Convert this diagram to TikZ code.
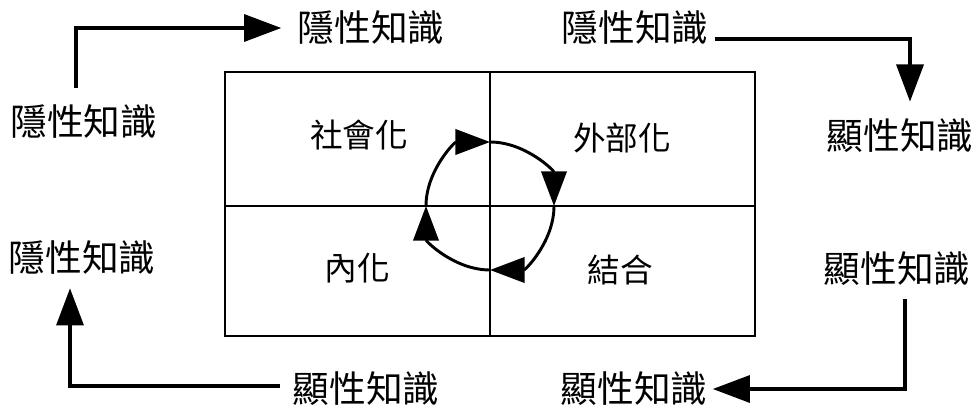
\documentclass[tikz,border=0pt]{standalone}
\usepackage{fontspec}
\newfontfamily\cjk{Noto Sans CJK TC}
\usetikzlibrary{arrows.meta}
\begin{document}
\begin{tikzpicture}[x=0.75pt,y=-0.75pt,
  outer/.style={font=\cjk\fontsize{27.5}{30}\selectfont, inner sep=0pt},
  inner/.style={font=\cjk\fontsize{24.5}{27}\selectfont, inner sep=0pt},
  flow/.style={line width=3.4pt, -{Triangle[length=28pt,width=20pt]}},
  circ/.style={line width=2.2pt, -{Triangle[length=26pt,width=19pt]}},
  grid/.style={line width=0.9pt}]
\fill[white] (0,0) rectangle (979,414);
\useasboundingbox (0,0) rectangle (979,414);
% matrix box
\draw[grid] (225,72) rectangle (755,336);
\draw[grid] (490,72) -- (490,336);
\draw[grid] (225,206) -- (755,206);
% quadrant labels
\node[inner] (soc) at (359,135) {社會化};
\node[inner] (ext) at (622,138) {外部化};
\node[inner] (int) at (357,268) {內化};
\node[inner] (com) at (620,270) {結合};
% cycle
\coordinate (c) at (490,206);
\draw[circ] (c) ++(180:48pt) arc[start angle=180,end angle=90,radius=48pt];
\draw[circ] (c) ++(90:48pt) arc[start angle=90,end angle=0,radius=48pt];
\draw[circ] (c) ++(0:48pt) arc[start angle=0,end angle=-90,radius=48pt];
\draw[circ] (c) ++(-90:48pt) arc[start angle=-90,end angle=-180,radius=48pt];
% outer labels
\node[outer] (top) at (371,28) {隱性知識};
\node[outer] (tr)  at (635,28) {隱性知識};
\node[outer] (lt)  at (84,122) {隱性知識};
\node[outer] (rt)  at (900,136) {顯性知識};
\node[outer] (lb)  at (82,258) {隱性知識};
\node[outer] (rb)  at (897,269) {顯性知識};
\node[outer] (bl)  at (366,389) {顯性知識};
\node[outer] (br)  at (634,389) {顯性知識};
% flows
\draw[flow] ([shift={(-8,-17)}]lt.north) |- ([shift={(-16,0)}]top.west);
\draw[flow] ([shift={(6,11)}]tr.east) -| ([shift={(10,-17)}]rt.north);
\draw[flow] ([shift={(8,13)}]rb.south) |- ([shift={(5,0)}]br.east);
\draw[flow] ([shift={(-12,-3)}]bl.west) -| ([shift={(-12,13)}]lb.south);
\end{tikzpicture}
\end{document}
